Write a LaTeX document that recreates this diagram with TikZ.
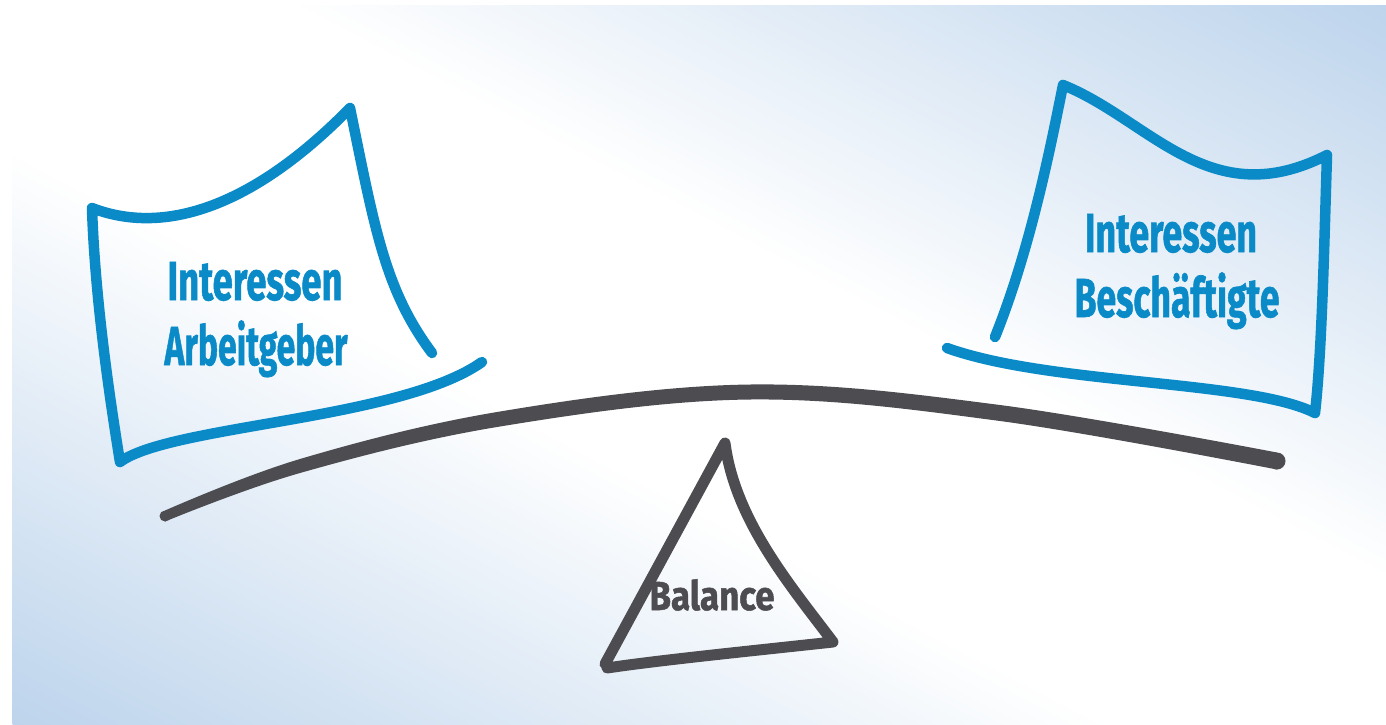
\documentclass[tikz,border=0pt]{standalone}
\usepackage{fontspec}
\setmainfont{Fira Sans}
\newfontfamily\lblfont{Fira Sans}[BoldFeatures={FakeBold=1.3}]
\usepackage{graphicx}
\definecolor{skyline}{HTML}{0A8BC8}
\definecolor{beamgray}{HTML}{4D4C51}
\definecolor{bgblue}{HTML}{BDD4EC}
\pgfdeclareverticalshading{bgshade}{100bp}{color(0bp)=(bgblue); color(25bp)=(bgblue); color(45bp)=(white); color(55bp)=(white); color(75bp)=(bgblue); color(100bp)=(bgblue)}
\begin{document}
\begin{tikzpicture}[x=1pt,y=-1pt,
  bluestroke/.style={draw=skyline, line width=10.5pt, line cap=round, line join=round},
  beamfill/.style={fill=beamgray},
  triline/.style={draw=beamgray, line width=11pt, line cap=round, line join=round},
  lbltext/.style={text=skyline, inner sep=0pt, anchor=base, font=\lblfont\bfseries\fontsize{55}{60}\selectfont},
  baltext/.style={text=beamgray, inner sep=0pt, anchor=base, font=\lblfont\bfseries\fontsize{40.6}{44}\selectfont}]
\useasboundingbox (0,0) rectangle (1386,724);
\fill[white] (0,0) rectangle (1386,724);
\begin{scope}
  \clip (12,5) rectangle (1386,724);
  \shade[shading=bgshade, transform canvas={rotate around={-27.6:(699,364.5)}}]
    (-901,-272.5) rectangle (2299,1001.5);
\end{scope}
% left box
\coordinate (lbTR) at (350,108);
\coordinate (lbTL) at (92,208);
\coordinate (lbBL) at (120,462);
\draw[bluestroke] (432,353) .. controls (385,290) and (375,230) .. (lbTR)
  .. controls (260,200) and (170,238) .. (lbTL)
  .. controls (95,300) and (110,400) .. (lbBL)
  .. controls (170,425) and (400,420) .. (482,362);
% right box
\coordinate (rbTL) at (1063,85);
\coordinate (rbTR) at (1327,155);
\coordinate (rbBR) at (1315,413);
\draw[bluestroke] (995,337) .. controls (1030,250) and (1050,150) .. (rbTL)
  .. controls (1150,120) and (1210,215) .. (rbTR)
  .. controls (1324,250) and (1322,350) .. (rbBR)
  .. controls (1250,380) and (1050,385) .. (947,348);
% beam (tapered at left, thicker at right)
\coordinate (beamL) at (165,516);
\coordinate (beamR) at (1277,461);
\fill[beamfill]
  plot[smooth, tension=0.6] coordinates {(165,510.5) (300,459) (500,411.5) (750,384.5) (1000,405) (1277,452.5)}
  -- plot[smooth, tension=0.6] coordinates {(1277,469.5) (1000,421) (750,399.5) (500,426.5) (300,473) (165,521.5)}
  -- cycle;
\fill[beamfill] (beamL) circle (5.5);
\fill[beamfill] (beamR) circle (8.5);
% triangle
\coordinate (apex) at (725,443);
\coordinate (triBR) at (833,642);
\coordinate (triBL) at (605,664);
\draw[triline] (triBL) -- (apex)
  .. controls (735,520) and (790,585) .. (triBR)
  .. controls (760,650) and (660,660) .. (607,668);
% texts
\node[lbltext] (la1) at (255,300) {\resizebox{175pt}{\height}{Interessen}};
\node[lbltext] (la2) at (256,365) {\resizebox{183pt}{\height}{Arbeitgeber}};
\node[lbltext] (rb1) at (1171,252) {\resizebox{172pt}{\height}{Interessen}};
\node[lbltext] (rb2) at (1177,317) {\resizebox{205pt}{\height}{Beschäftigte}};
\node[baltext] (bal) at (712,610) {\resizebox{125pt}{\height}{Balance}};
\end{tikzpicture}
\end{document}
